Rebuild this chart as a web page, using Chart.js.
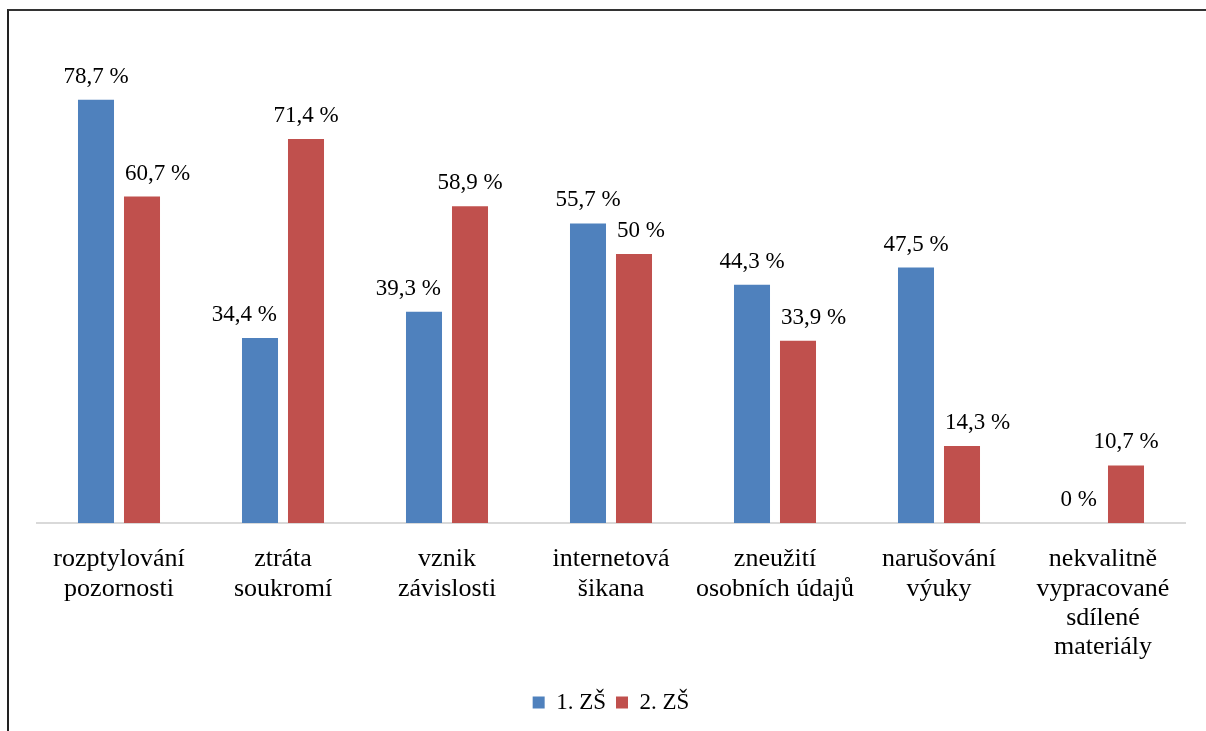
<!DOCTYPE html>
<html>
<head>
<meta charset="utf-8">
<script src="https://cdn.jsdelivr.net/npm/chart.js@4/dist/chart.umd.min.js"></script>
<style>
  html, body { margin: 0; padding: 0; background: #fff; }
  #wrap { position: relative; width: 1206px; height: 731px; }
  #frame { position: absolute; left: 7px; top: 9px; right: 0; bottom: 0;
           border-top: 2px solid #333; border-left: 2px solid #222; }
  canvas { position: absolute; left: 0; top: 0; }
</style>
</head>
<body>
<div id="wrap">
  <canvas id="chart" width="1206" height="731"></canvas>
  <div id="frame"></div>
</div>
<script>
// kategorie a hodnoty (v %)
const categories = [
  ["rozptylování", "pozornosti"],
  ["ztráta", "soukromí"],
  ["vznik", "závislosti"],
  ["internetová", "šikana"],
  ["zneužití", "osobních údajů"],
  ["narušování", "výuky"],
  ["nekvalitně", "vypracované", "sdílené", "materiály"]
];
const seriesNames = ["1. ZŠ", "2. ZŠ"];
const zs1 = [78.7, 34.4, 39.3, 55.7, 44.3, 47.5, 0];
const zs2 = [60.7, 71.4, 58.9, 50, 33.9, 14.3, 10.7];

const FONT = "'Liberation Serif', 'Times New Roman', serif";

// popisky hodnot nad sloupci (posunuté, pokud by zasahovaly do vedlejšího sloupce)
const valueLabels = {
  id: "valueLabels",
  afterDatasetsDraw(chart) {
    const ctx = chart.ctx;
    ctx.save();
    ctx.font = "23px " + FONT;
    ctx.fillStyle = "#000";
    ctx.textAlign = "center";
    ctx.textBaseline = "alphabetic";
    const gap = 11;
    chart.data.datasets.forEach((ds, i) => {
      chart.getDatasetMeta(i).data.forEach((bar, j) => {
        const txt = ds.data[j].toString().replace(".", ",") + " %";
        const w = ctx.measureText(txt).width;
        const y = bar.y - 17;
        let x = bar.x;
        chart.data.datasets.forEach((o, k) => {
          if (k === i) return;
          const nb = chart.getDatasetMeta(k).data[j];
          // sousední sloupec sahá výš než spodek popisku
          if (nb.y < y) {
            const nl = nb.x - nb.width / 2, nr = nb.x + nb.width / 2;
            if (nb.x < bar.x && x - w / 2 < nr + gap) x = nr + gap + w / 2;
            if (nb.x > bar.x && x + w / 2 > nl - gap) x = nl - gap - w / 2;
          }
        });
        ctx.fillText(txt, x, y);
      });
    });
    ctx.restore();
  }
};

new Chart(document.getElementById("chart").getContext("2d"), {
  type: "bar",
  data: {
    labels: categories,
    datasets: [
      { label: seriesNames[0], data: zs1, backgroundColor: "#4F81BD" },
      { label: seriesNames[1], data: zs2, backgroundColor: "#C0504D" }
    ]
  },
  options: {
    responsive: false,
    animation: false,
    categoryPercentage: 0.561,
    barPercentage: 0.783,
    layout: { padding: { left: 37, right: 21, top: 39, bottom: 7 } },
    plugins: {
      legend: {
        position: "bottom",
        labels: {
          font: { family: FONT, size: 23 },
          color: "#000",
          boxWidth: 12,
          boxHeight: 12,
          padding: 10
        }
      },
      tooltip: { enabled: false }
    },
    scales: {
      x: {
        grid: { display: false },
        border: { display: true, color: "#D9D9D9", width: 2 },
        ticks: {
          font: { family: FONT, size: 26, lineHeight: 1.12 },
          color: "#000",
          padding: 14,
          maxRotation: 0,
          autoSkip: false
        },
        afterFit(scale) { scale.height = 158; }
      },
      y: {
        display: false,
        min: 0,
        max: 90
      }
    }
  },
  plugins: [valueLabels]
});
</script>
</body>
</html>
